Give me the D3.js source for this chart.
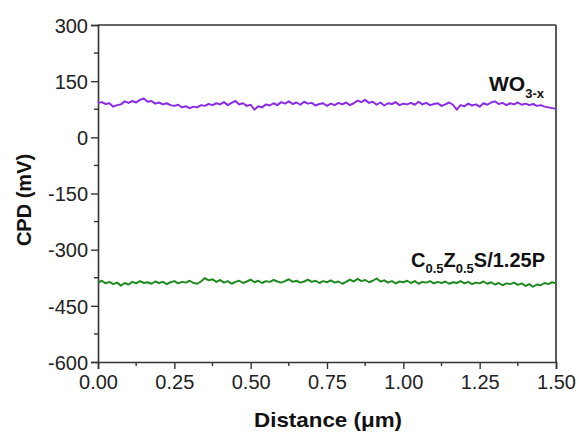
<!DOCTYPE html>
<html>
<head>
<meta charset="utf-8">
<script src="https://cdn.jsdelivr.net/npm/d3@7"></script>
<style>
  html, body { margin: 0; padding: 0; background: #fff; }
  svg { display: block; }
  text { font-family: Arial, "Liberation Sans", sans-serif; }
</style>
</head>
<body>
<svg id="chart" width="579" height="432"></svg>
<script>
// Distance sampled every 0.0125 µm from 0 to 1.5
const step = 0.0125;

// CPD profile of WO3-x (mV)
const wo3Values = [
  92, 94, 89, 91, 82, 86, 88, 96, 92, 97,
  93, 100, 104, 95, 97, 90, 93, 88, 91, 86,
  84, 87, 80, 83, 78, 82, 80, 86, 84, 89,
  86, 91, 88, 94, 86, 92, 97, 88, 91, 84,
  87, 74, 83, 80, 88, 85, 91, 86, 94, 90,
  96, 89, 93, 87, 95, 90, 92, 85, 89, 91,
  84, 90, 86, 92, 88, 93, 86, 91, 98, 94,
  100, 92, 95, 87, 93, 85, 91, 89, 94, 86,
  90, 88, 92, 87, 95, 88, 92, 86, 89, 91,
  84, 88, 93, 87, 74, 86, 83, 90, 85, 88,
  82, 91, 87, 93, 96, 89, 92, 86, 91, 88,
  93, 87, 90, 86, 89, 84, 86, 82, 80, 78,
  76
];

// CPD profile of C0.5Z0.5S/1.25P (mV)
const czsValues = [
  -388, -383, -390, -386, -392, -388, -396, -389, -393, -386,
  -390, -384, -389, -387, -391, -385, -389, -386, -392, -387,
  -384, -390, -386, -388, -383, -389, -391, -385, -376, -382,
  -379, -386, -381, -388, -384, -391, -386, -383, -389, -385,
  -380, -387, -383, -389, -384, -386, -381, -385, -388, -384,
  -379, -386, -383, -388, -385, -380, -386, -383, -389, -384,
  -387, -382, -388, -385, -391, -386, -380, -385, -378, -384,
  -381, -387, -383, -377, -385, -382, -388, -384, -390, -385,
  -387, -383, -389, -384, -391, -386, -388, -384, -390, -386,
  -389, -385, -391, -387, -389, -384, -390, -386, -392, -388,
  -390, -385, -391, -387, -393, -389, -395, -390, -392, -388,
  -394, -390, -397, -392, -399, -393, -395, -389, -392, -387,
  -390
];

const xTicks = [0, 0.25, 0.5, 0.75, 1.0, 1.25, 1.5];
const yTicks = [300, 150, 0, -150, -300, -450, -600];

const svg = d3.select("#chart");
const margin = { left: 98, right: 23, top: 25, bottom: 70 };
const W = 579, H = 432;
const plotW = W - margin.left - margin.right;
const plotH = H - margin.top - margin.bottom;

const x = d3.scaleLinear().domain([0, 1.5]).range([margin.left, margin.left + plotW]);
const y = d3.scaleLinear().domain([-600, 300]).range([margin.top + plotH, margin.top]);

const axisColor = "#333";
const labelColor = "#222";

// Frame: top and right edges
svg.append("line")
  .attr("x1", x(0)).attr("x2", x(1.5)).attr("y1", y(300)).attr("y2", y(300))
  .attr("stroke", axisColor).attr("stroke-width", 1.6);
svg.append("line")
  .attr("x1", x(1.5)).attr("x2", x(1.5)).attr("y1", y(300)).attr("y2", y(-600))
  .attr("stroke", axisColor).attr("stroke-width", 1.6);

// Minor ticks
const xMinor = d3.range(0.125, 1.5, 0.25);
const yMinor = d3.range(-525, 300, 150);

const gx = svg.append("g").attr("transform", `translate(0,${y(-600)})`);
gx.call(d3.axisBottom(x).tickValues(xTicks).tickFormat(d => d.toFixed(2)).tickSize(7).tickPadding(5));
gx.selectAll(".minor").data(xMinor).enter().append("line")
  .attr("x1", d => x(d)).attr("x2", d => x(d)).attr("y1", 0).attr("y2", 4)
  .attr("stroke", axisColor).attr("stroke-width", 1.4);

const gy = svg.append("g").attr("transform", `translate(${x(0)},0)`);
gy.call(d3.axisLeft(y).tickValues(yTicks).tickFormat(d => String(d)).tickSize(7).tickPadding(3));
gy.selectAll(".minor").data(yMinor).enter().append("line")
  .attr("x1", 0).attr("x2", -4).attr("y1", d => y(d)).attr("y2", d => y(d))
  .attr("stroke", axisColor).attr("stroke-width", 1.4);

[gx, gy].forEach(g => {
  g.select(".domain").attr("stroke", axisColor).attr("stroke-width", 1.6);
  g.selectAll(".tick line").attr("stroke", axisColor).attr("stroke-width", 1.4);
  g.selectAll(".tick text")
    .attr("font-family", "Arial, 'Liberation Sans', sans-serif")
    .attr("font-size", 20).attr("fill", labelColor);
});
gx.selectAll(".tick text").attr("dy", "0.75em");
gy.selectAll(".tick text").attr("dy", "0.36em");

// Series lines
const line = d3.line()
  .x((d, i) => x(i * step))
  .y(d => y(d));

svg.append("path").datum(wo3Values)
  .attr("d", line).attr("fill", "none")
  .attr("stroke", "#8a2be8").attr("stroke-width", 2).attr("stroke-linejoin", "round");

svg.append("path").datum(czsValues)
  .attr("d", line).attr("fill", "none")
  .attr("stroke", "#1f8a1f").attr("stroke-width", 2).attr("stroke-linejoin", "round");

// Axis titles
svg.append("text")
  .attr("transform", `translate(${x(0.75) + 1},427) scale(1.12,1)`)
  .attr("text-anchor", "middle")
  .attr("font-size", 20).attr("font-weight", "bold").attr("fill", "#111")
  .text("Distance (μm)");

svg.append("text")
  .attr("transform", `translate(31,200) rotate(-90)`)
  .attr("text-anchor", "middle")
  .attr("font-size", 20).attr("font-weight", "bold").attr("fill", "#111")
  .text("CPD (mV)");

// Series labels
const t1 = svg.append("text")
  .attr("x", 489).attr("y", 91)
  .attr("font-size", 21).attr("font-weight", "bold").attr("fill", "#111");
t1.append("tspan").text("WO");
t1.append("tspan").attr("font-size", 13).attr("dy", 7).text("3-x");

const t2 = svg.append("text")
  .attr("x", 411).attr("y", 267)
  .attr("font-size", 20).attr("font-weight", "bold").attr("fill", "#111");
t2.append("tspan").text("C");
t2.append("tspan").attr("font-size", 13).attr("dy", 6).text("0.5");
t2.append("tspan").attr("dy", -6).text("Z");
t2.append("tspan").attr("font-size", 13).attr("dy", 6).text("0.5");
t2.append("tspan").attr("dy", -6).text("S/1.25P");
</script>
</body>
</html>
